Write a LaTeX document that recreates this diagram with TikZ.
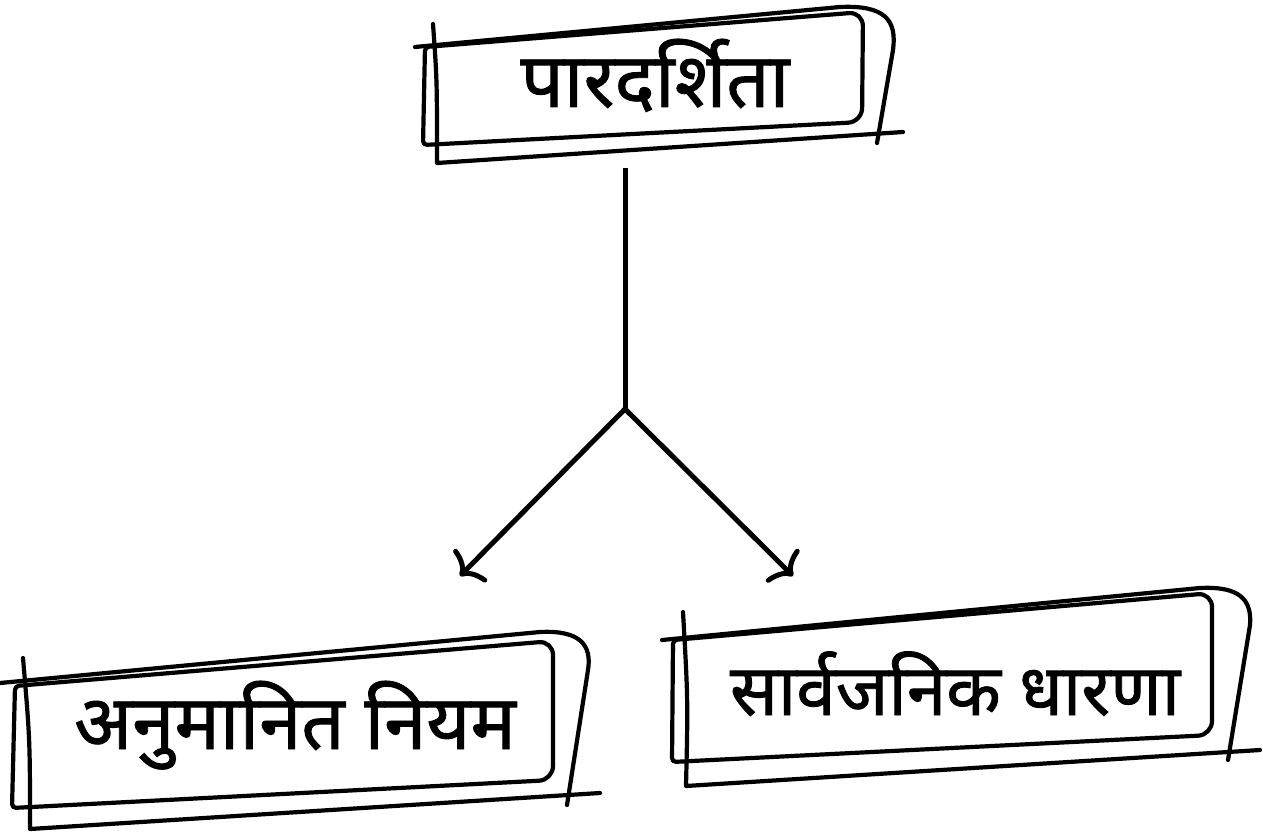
\documentclass[tikz,border=0pt]{standalone}
\usepackage{fontspec}
\newfontfamily\deva[Script=Devanagari,FakeBold=1.2]{Noto Sans}
\usetikzlibrary{arrows.meta}
\begin{document}
\begin{tikzpicture}[x=1pt,y=-1pt,
  sketch/.style={line width=4.2pt,line cap=round,line join=round,black},
  conn/.style={line width=5pt,black},
  tip/.style={-{Computer Modern Rightarrow[length=17pt,width=46pt,line width=5pt]}},
  label/.style={font=\deva\fontsize{76}{86}\selectfont,anchor=base,inner sep=0pt}]
\useasboundingbox[fill=white] (0,0) rectangle (1263,832);

% top box
\draw[sketch] (425,47) [rounded corners=14pt]-- (863,12) -- (862,122) [rounded corners=4pt]-- (423,145) -- cycle;
\draw[sketch] (433,24) .. controls (437,80) .. (437,163) -- (903,132);
\draw[sketch] (415,47) -- (840,7) .. controls (885,5) and (897,20) .. (893,50) -- (877,143);
\node[label] (top) at (655,107) {पारदर्शिता};

% left box
\draw[sketch] (15,686) [rounded corners=14pt]-- (553,641) -- (553,780) [rounded corners=4pt]-- (12,808) -- cycle;
\draw[sketch] (23,658) .. controls (30,740) .. (30,829) -- (600,793);
\draw[sketch] (0,683) -- (540,632) .. controls (580,630) and (592,645) .. (588,670) -- (567,805);
\node[label] (left) at (295,749) {अनुमानित नियम};

% right box
\draw[sketch] (673,640) [rounded corners=14pt]-- (1212,593) -- (1212,735) [rounded corners=4pt]-- (672,762) -- cycle;
\draw[sketch] (683,612) .. controls (688,700) .. (686,786) -- (1260,750);
\draw[sketch] (662,640) -- (1200,588) .. controls (1240,586) and (1252,600) .. (1250,625) -- (1228,760);
\node[label,font=\deva\fontsize{71}{80}\selectfont] (right) at (955,715) {सार्वजनिक धारणा};

% connectors
\coordinate (stem) at (625,168);
\coordinate (fork) at (625,409);
\coordinate (tipL) at (460,576);
\coordinate (tipR) at (793,576);
\draw[conn] (stem) -- (fork);
\draw[conn,tip] (fork) -- (tipL);
\draw[conn,tip] (fork) -- (tipR);
\end{tikzpicture}
\end{document}
